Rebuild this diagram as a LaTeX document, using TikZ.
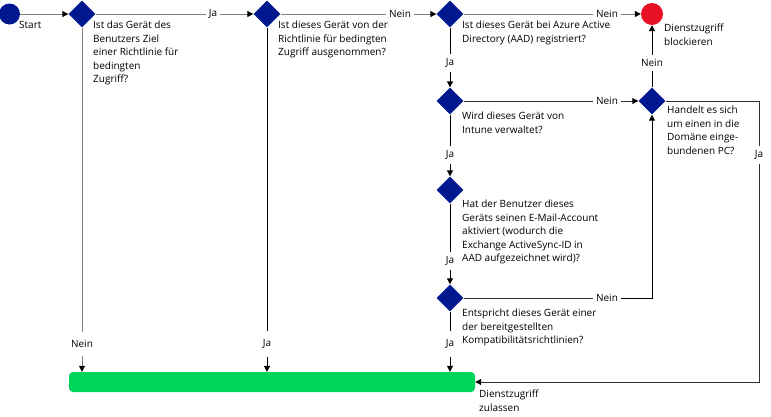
\documentclass[tikz,border=0pt]{standalone}
\usepackage{fontspec}
\setmainfont{Open Sans}
\usetikzlibrary{shapes.geometric,arrows.meta}
\definecolor{navy}{HTML}{00188F}
\definecolor{msred}{HTML}{E81123}
\definecolor{msgreen}{HTML}{00D558}
\definecolor{lgray}{HTML}{7F7F7F}
\definecolor{dgray}{HTML}{303030}
\tikzset{
 dia/.style={diamond,fill=navy,minimum width=27pt,minimum height=27pt,inner sep=0pt},
 txt/.style={anchor=north west,inner sep=0pt,align=left,font=\fontsize{10}{13.5}\selectfont},
 lab/.style={fill=white,inner xsep=3pt,inner ysep=4pt,font=\fontsize{10}{13.5}\selectfont},
 blab/.style={lab,inner ysep=8pt},
 ln/.style={line width=1pt,black},
 dl/.style={line width=1pt,dgray},
 gl/.style={line width=1pt,lgray},
 arr/.style={-{Triangle[length=6pt,width=6pt,color=black]}},
}
\begin{document}
\begin{tikzpicture}[x=1pt,y=-1pt]
\useasboundingbox (0,0) rectangle (771,416);
% shapes
\node[circle,fill=navy,minimum size=21pt,inner sep=0pt] (s) at (9.5,14) {};
\node[circle,fill=msred,minimum size=22pt,inner sep=0pt] (blk) at (652,14) {};
\node[dia] (d1) at (82,14) {};
\node[dia] (d2) at (267,14) {};
\node[dia] (d3) at (450,14) {};
\node[dia] (d4) at (450,101) {};
\node[dia] (d5) at (652,101) {};
\node[dia] (d6) at (450,190) {};
\node[dia] (d7) at (450,298) {};
\node[fill=msgreen,rounded corners=4pt,minimum width=406pt,minimum height=20pt,inner sep=0pt] (ok) at (272,382) {};
% labels
\node[lab] (l1) at (213,14) {Ja};
\node[lab] (l2) at (400,14) {Nein};
\node[lab] (l3) at (607,14) {Nein};
\node[lab] (l4) at (450,63) {Ja};
\node[lab] (l5) at (652,63) {Nein};
\node[lab] (l6) at (607,101) {Nein};
\node[lab] (l7) at (450,155) {Ja};
\node[lab] (l8) at (759,155) {Ja};
\node[lab] (l9) at (450,261) {Ja};
\node[lab] (l10) at (607,298) {Nein};
\node[blab] (l11) at (450,344) {Ja};
\node[blab] (l12) at (82,344) {Nein};
\node[blab] (l13) at (267,344) {Ja};
% connectors
\draw[gl,arr] (s) -- (d1);
\draw[gl] (d1) -- (l1); \draw[gl,arr] (l1) -- (d2);
\draw[gl] (d2) -- (l2); \draw[gl,arr] (l2) -- (d3);
\draw[gl] (d3) -- (l3); \draw[gl,arr] (l3) -- (blk);
\draw[ln] (d3) -- (l4); \draw[ln,arr] (l4) -- (d4);
\draw[dl] (d4) -- (l6); \draw[dl,arr] (l6) -- (d5);
\draw[ln] (d5) -- (l5); \draw[ln,arr] (l5) -- (blk);
\draw[ln] (d4) -- (l7); \draw[ln,arr] (l7) -- (d6);
\draw[ln] (d6) -- (l9); \draw[ln,arr] (l9) -- (d7);
\draw[ln] (d7) -- (l11); \draw[ln,arr] (l11) -- (l11 |- ok.north);
\draw[gl] (d1) -- (l12); \draw[gl,arr] (l12) -- (l12 |- ok.north);
\draw[ln] (d2) -- (l13); \draw[ln,arr] (l13) -- (l13 |- ok.north);
\draw[dl] (d7) -- (l10); \draw[ln,arr] (l10) -| (d5);
\draw[dl] (d5) -| (l8); \draw[dl,arr] (l8) |- (ok);
% texts
\node[txt] (ts) at (19,21) {Start};
\node[txt] (t1) at (93,21) {Ist das Gerät des\\Benutzers Ziel\\einer Richtlinie für\\bedingten\\Zugriff?};
\node[txt] (t2) at (278,21) {Ist dieses Gerät von der\\Richtlinie für bedingten\\Zugriff ausgenommen?};
\node[txt] (t3) at (462,21) {Ist dieses Gerät bei Azure Active\\Directory (AAD) registriert?};
\node[txt] (tb) at (664,24) {Dienstzugriff\\blockieren};
\node[txt] (t4) at (462,112) {Wird dieses Gerät von\\Intune verwaltet?};
\node[txt] (t5) at (667,106) {Handelt es sich\\um einen in die\\Domäne einge-\\bundenen PC?};
\node[txt] (t6) at (462,200) {Hat der Benutzer dieses\\Geräts seinen E-Mail-Account\\aktiviert (wodurch die\\Exchange ActiveSync-ID in\\AAD aufgezeichnet wird)?};
\node[txt] (t7) at (462,309) {Entspricht dieses Gerät einer\\der bereitgestellten\\Kompatibilitätsrichtlinien?};
\node[txt] (tok) at (479,390) {Dienstzugriff\\zulassen};
\end{tikzpicture}
\end{document}
